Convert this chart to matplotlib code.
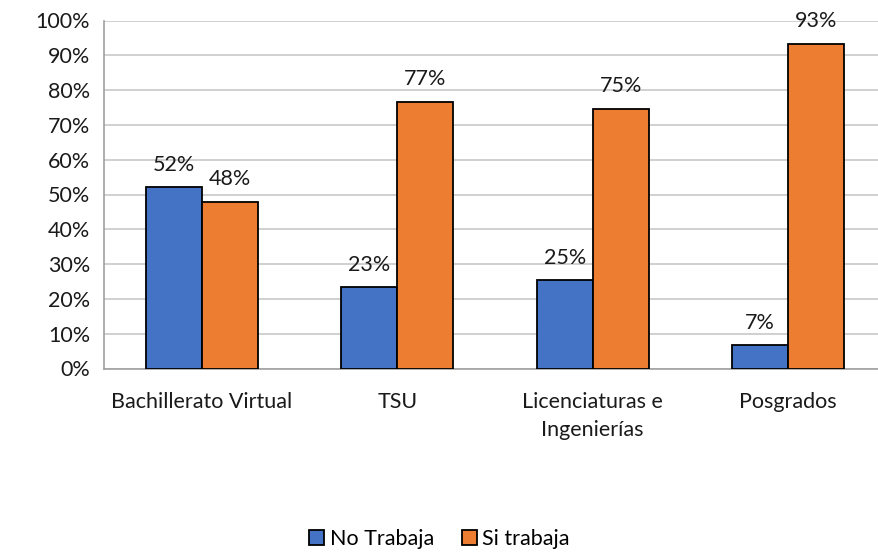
import matplotlib.pyplot as plt
import numpy as np
from matplotlib.ticker import PercentFormatter

plt.rcParams['font.family'] = ['Lato', 'DejaVu Sans']

categorias = ['Bachillerato Virtual', 'TSU', 'Licenciaturas e\nIngenierías', 'Posgrados']
no_trabaja = [52.1, 23.3, 25.3, 6.7]
si_trabaja = [47.9, 76.7, 74.7, 93.3]
series = ['No Trabaja', 'Si trabaja']
colores = ['#4472C4', '#ED7D31']
fs = 15.5
txt = '#1a1a1a'

fig = plt.figure(figsize=(8.79, 5.52), dpi=100)
ax = fig.add_axes([104/879, 1 - 368.5/552, 782/879, 348/552])

x = np.arange(len(categorias))
w = 0.286
b1 = ax.bar(x - w/2, no_trabaja, w, color=colores[0], edgecolor='black', linewidth=1.3, label=series[0], zorder=3)
b2 = ax.bar(x + w/2, si_trabaja, w, color=colores[1], edgecolor='black', linewidth=1.3, label=series[1], zorder=3)

for barras, vals in [(b1, no_trabaja), (b2, si_trabaja)]:
    for r, v in zip(barras, vals):
        ax.text(r.get_x() + r.get_width()/2, v + 3.6, f'{round(v):.0f}%', ha='center', va='bottom',
                fontsize=fs, color=txt)

ax.set_xlim(-0.5, len(categorias) - 0.5)
ax.set_ylim(0, 100)
ax.set_yticks(np.arange(0, 101, 10))
ax.yaxis.set_major_formatter(PercentFormatter(decimals=0))
ax.grid(axis='y', color='#C8C8C8', linewidth=1.2, zorder=0)
ax.set_xticks(x)
ax.set_xticklabels(categorias, fontsize=fs, color=txt, linespacing=1.5)
ax.tick_params(axis='y', labelsize=fs, labelcolor=txt, length=0, pad=10)
ax.tick_params(axis='x', length=0, pad=17)
for s in ['top', 'right']:
    ax.spines[s].set_visible(False)
ax.spines['left'].set_color('#A0A0A0')
ax.spines['bottom'].set_color('#A0A0A0')
ax.spines['left'].set_linewidth(1.2)
ax.spines['bottom'].set_linewidth(1.2)

fig.legend(loc='center', bbox_to_anchor=(0.5, 1 - 539/552), ncol=2, frameon=False,
           fontsize=fs, handlelength=0.7, handleheight=0.7, handletextpad=0.25, columnspacing=1.3)

fig.savefig('out.png', dpi=100)
